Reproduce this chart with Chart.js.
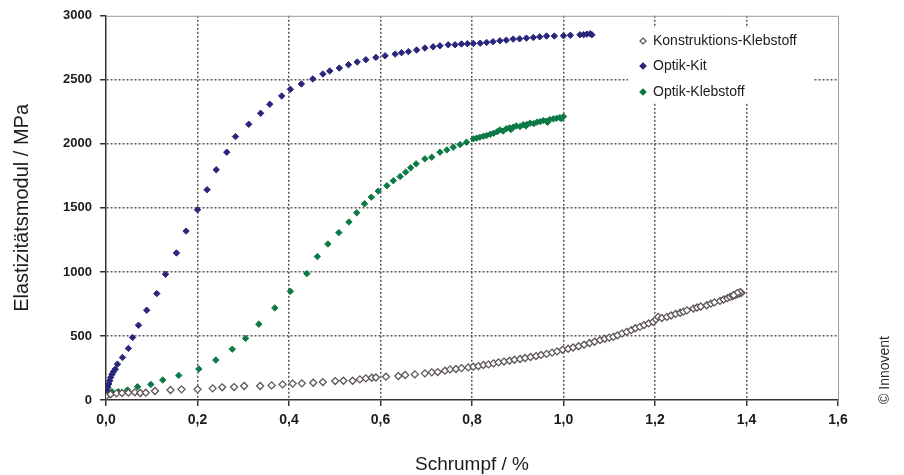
<!DOCTYPE html>
<html>
<head>
<meta charset="utf-8">
<script src="https://cdn.jsdelivr.net/npm/chart.js@4.4.0/dist/chart.umd.min.js"></script>
<style>
  html, body { margin: 0; padding: 0; background: #fff; }
  #wrap { width: 904px; height: 475px; }
</style>
</head>
<body>
<div id="wrap"><canvas id="chart" width="904" height="475"></canvas></div>
<script>
const seriesNames = ['Konstruktions-Klebstoff', 'Optik-Kit', 'Optik-Klebstoff'];

const xTickLabels = ['0,0', '0,2', '0,4', '0,6', '0,8', '1,0', '1,2', '1,4', '1,6'];
const yTickLabels = ['0', '500', '1000', '1500', '2000', '2500', '3000'];

// Konstruktions-Klebstoff (grey open diamonds)
const kkX = [0.000, 0.010, 0.023, 0.035, 0.049, 0.063, 0.075, 0.087, 0.107, 0.141, 0.165, 0.200, 0.233, 0.254, 0.280, 0.302,
  0.337, 0.362, 0.386, 0.408, 0.428, 0.453, 0.474, 0.501, 0.519, 0.539, 0.555, 0.568, 0.581, 0.590, 0.612, 0.639,
  0.654, 0.675, 0.697, 0.712, 0.725, 0.741, 0.752, 0.765, 0.777, 0.792, 0.803, 0.814, 0.825, 0.836, 0.847, 0.858,
  0.870, 0.882, 0.893, 0.905, 0.916, 0.928, 0.940, 0.951, 0.963, 0.975, 0.986, 0.998, 1.010, 1.021, 1.033, 1.045,
  1.057, 1.068, 1.080, 1.090, 1.100, 1.109, 1.118, 1.128, 1.138, 1.148, 1.157, 1.167, 1.176, 1.186, 1.196, 1.202,
  1.207, 1.215, 1.226, 1.235, 1.245, 1.255, 1.262, 1.270, 1.284, 1.292, 1.300, 1.313, 1.322, 1.330, 1.342, 1.350,
  1.358, 1.364, 1.370, 1.375, 1.379, 1.384, 1.389, 1.386, 1.380, 1.372];
const kkY = [30, 45, 52, 55, 57, 60, 55, 57, 70, 78, 83, 83, 91, 99, 101, 109,
  109, 114, 122, 128, 130, 135, 140, 148, 150, 150, 161, 169, 174, 176, 182, 187,
  195, 200, 208, 216, 218, 229, 239, 242, 249, 255, 260, 265, 273, 278, 286, 294,
  300, 307, 314, 320, 328, 336, 343, 352, 360, 370, 380, 392, 400, 410, 420, 432,
  445, 455, 468, 478, 487, 493, 505, 520, 532, 545, 560, 571, 585, 598, 610, 630,
  649, 640, 649, 660, 672, 681, 690, 700, 714, 722, 730, 740, 752, 762, 774, 785,
  795, 805, 812, 820, 826, 830, 836, 842, 835, 818];

// Optik-Kit (navy diamonds)
const okX = [0.000, 0.002, 0.004, 0.006, 0.008, 0.010, 0.013, 0.016, 0.020, 0.025, 0.036, 0.049, 0.058, 0.071, 0.089, 0.111,
  0.130, 0.154, 0.175, 0.200, 0.221, 0.241, 0.264, 0.283, 0.312, 0.338, 0.358, 0.384, 0.403, 0.427, 0.452, 0.474,
  0.489, 0.510, 0.530, 0.549, 0.568, 0.590, 0.610, 0.632, 0.646, 0.661, 0.679, 0.697, 0.715, 0.730, 0.748, 0.763,
  0.777, 0.790, 0.803, 0.818, 0.832, 0.846, 0.861, 0.875, 0.890, 0.904, 0.919, 0.934, 0.948, 0.963, 0.980, 1.000,
  1.015, 1.036, 1.044, 1.051, 1.058, 1.062];
const okY = [39, 70, 100, 125, 150, 175, 200, 220, 240, 280, 332, 403, 488, 584, 701, 831,
  982, 1148, 1319, 1486, 1642, 1798, 1935, 2057, 2153, 2239, 2309, 2374, 2426, 2468, 2507, 2546,
  2569, 2592, 2618, 2639, 2657, 2675, 2688, 2701, 2712, 2720, 2733, 2748, 2758, 2766, 2774, 2774,
  2780, 2782, 2784, 2786, 2792, 2798, 2805, 2810, 2818, 2820, 2826, 2831, 2836, 2842, 2842, 2844,
  2848, 2852, 2853, 2857, 2860, 2852];

// Optik-Klebstoff (green diamonds)
const oklX = [0.000, 0.002, 0.005, 0.009, 0.013, 0.027, 0.047, 0.069, 0.098, 0.124, 0.159, 0.203, 0.240, 0.276, 0.305, 0.334,
  0.369, 0.403, 0.439, 0.462, 0.485, 0.509, 0.531, 0.548, 0.565, 0.580, 0.595, 0.614, 0.628, 0.643, 0.655, 0.666,
  0.678, 0.697, 0.712, 0.730, 0.745, 0.759, 0.774, 0.788, 0.803, 0.810, 0.817, 0.825, 0.832, 0.840, 0.847, 0.855,
  0.861, 0.868, 0.875, 0.882, 0.890, 0.897, 0.905, 0.912, 0.920, 0.927, 0.935, 0.942, 0.949, 0.956, 0.963, 0.970,
  0.978, 0.985, 0.992, 1.000, 0.995, 0.965, 0.918, 0.885];
const oklY = [39, 50, 57, 60, 65, 65, 78, 104, 122, 156, 192, 242, 312, 397, 481, 592,
  719, 849, 987, 1120, 1218, 1307, 1390, 1462, 1532, 1584, 1631, 1673, 1712, 1745, 1779, 1813,
  1844, 1883, 1896, 1935, 1953, 1974, 1995, 2013, 2039, 2045, 2052, 2060, 2065, 2075, 2083, 2095,
  2109, 2100, 2118, 2125, 2130, 2140, 2135, 2150, 2151, 2162, 2158, 2170, 2174, 2182, 2178, 2190,
  2195, 2200, 2205, 2213, 2198, 2168, 2140, 2112];

const toPoints = (xs, ys) => xs.map((x, i) => ({ x: x, y: ys[i] }));

const seriesColors = ['#5e5656', '#29267c', '#0b7a45'];
const seriesFill = ['#ffffff', '#29267c', '#0b7a45'];

const FONT = '"Liberation Sans", Arial, sans-serif';
const gridColor = '#5e5656';
const axisColor = '#3a3232';

// top/right frame, legend box and copyright
const extrasPlugin = {
    id: 'extras',
    afterDraw(chart) {
        const ctx = chart.ctx;
        const a = chart.chartArea;
        ctx.save();
        ctx.strokeStyle = '#a09a9a';
        ctx.lineWidth = 1;
        ctx.beginPath();
        ctx.moveTo(a.left, a.top + 0.5);
        ctx.lineTo(a.right + 0.5, a.top + 0.5);
        ctx.lineTo(a.right + 0.5, a.bottom);
        ctx.stroke();

        // legend
        ctx.fillStyle = '#ffffff';
        ctx.fillRect(628, 28, 186, 75);
        ctx.font = '14px ' + FONT;
        ctx.textBaseline = 'middle';
        const rows = [41, 66, 92];
        seriesNames.forEach((name, i) => {
            const mx = 643, my = rows[i], r = 3;
            ctx.beginPath();
            ctx.moveTo(mx, my - r);
            ctx.lineTo(mx + r, my);
            ctx.lineTo(mx, my + r);
            ctx.lineTo(mx - r, my);
            ctx.closePath();
            ctx.fillStyle = seriesFill[i];
            ctx.fill();
            ctx.strokeStyle = seriesColors[i];
            ctx.lineWidth = 1.2;
            ctx.stroke();
            ctx.fillStyle = '#1e1a1a';
            ctx.fillText(name, 653, my);
        });

        // copyright
        ctx.translate(885, 370);
        ctx.rotate(-Math.PI / 2);
        ctx.font = '14px ' + FONT;
        ctx.textAlign = 'center';
        ctx.fillStyle = '#2a2a2a';
        ctx.fillText('\u00A9 Innovent', 0, 0);
        ctx.restore();
    }
};

const data = {
    datasets: [
        {
            label: seriesNames[0],
            data: toPoints(kkX, kkY),
            pointStyle: 'rectRot',
            pointRadius: 3.5,
            borderWidth: 1.3,
            borderColor: seriesColors[0],
            backgroundColor: seriesFill[0],
        },
        {
            label: seriesNames[1],
            data: toPoints(okX, okY),
            pointStyle: 'rectRot',
            pointRadius: 3.2,
            borderWidth: 1,
            borderColor: seriesColors[1],
            backgroundColor: seriesFill[1],
        },
        {
            label: seriesNames[2],
            data: toPoints(oklX, oklY),
            pointStyle: 'rectRot',
            pointRadius: 3.2,
            borderWidth: 1,
            borderColor: seriesColors[2],
            backgroundColor: seriesFill[2],
        }
    ]
};

const config = {
    type: 'scatter',
    data: data,
    options: {
        responsive: false,
        animation: false,
        layout: { padding: { top: 15, right: 66, left: 0, bottom: 0 } },
        plugins: {
            legend: { display: false },
            tooltip: { enabled: false },
        },
        scales: {
            x: {
                type: 'linear',
                min: 0,
                max: 1.6,
                afterFit: (scale) => { scale.height = 75; },
                ticks: {
                    stepSize: 0.2,
                    autoSkip: false,
                    maxRotation: 0,
                    padding: 6,
                    color: '#1e1a1a',
                    font: { family: FONT, size: 14, weight: 'bold' },
                    callback: (v, i) => xTickLabels[i],
                },
                grid: {
                    color: (c) => (c.index === 0 || c.index === xTickLabels.length - 1) ? 'rgba(0,0,0,0)' : gridColor,
                    lineWidth: 1.5,
                    tickColor: axisColor,
                    tickLength: 6,
                    tickWidth: 1.5,
                    tickBorderDash: [],
                },
                border: { color: axisColor, width: 1.5, dash: [2, 2] },
                title: {
                    display: true,
                    text: 'Schrumpf / %',
                    color: '#1e1a1a',
                    font: { family: FONT, size: 19 },
                    padding: { top: 0, bottom: -1 },
                },
            },
            y: {
                min: 0,
                max: 3000,
                afterFit: (scale) => { scale.width = 106; },
                ticks: {
                    stepSize: 500,
                    padding: 8,
                    color: '#1e1a1a',
                    font: { family: FONT, size: 13, weight: 'bold' },
                    callback: (v, i) => yTickLabels[i],
                },
                grid: {
                    color: (c) => (c.index === 0 || c.index === yTickLabels.length - 1) ? 'rgba(0,0,0,0)' : gridColor,
                    lineWidth: 1.5,
                    tickColor: axisColor,
                    tickLength: 6,
                    tickWidth: 1.5,
                    tickBorderDash: [],
                },
                border: { color: axisColor, width: 1.5, dash: [2, 2] },
                title: {
                    display: true,
                    text: 'Elastizitätsmodul / MPa',
                    color: '#1e1a1a',
                    font: { family: FONT, size: 20 },
                    padding: { top: 10, bottom: 0 },
                },
            },
        },
    },
    plugins: [extrasPlugin],
};

const ctx = document.getElementById('chart').getContext('2d');
const chart = new Chart(ctx, config);
</script>
</body>
</html>
